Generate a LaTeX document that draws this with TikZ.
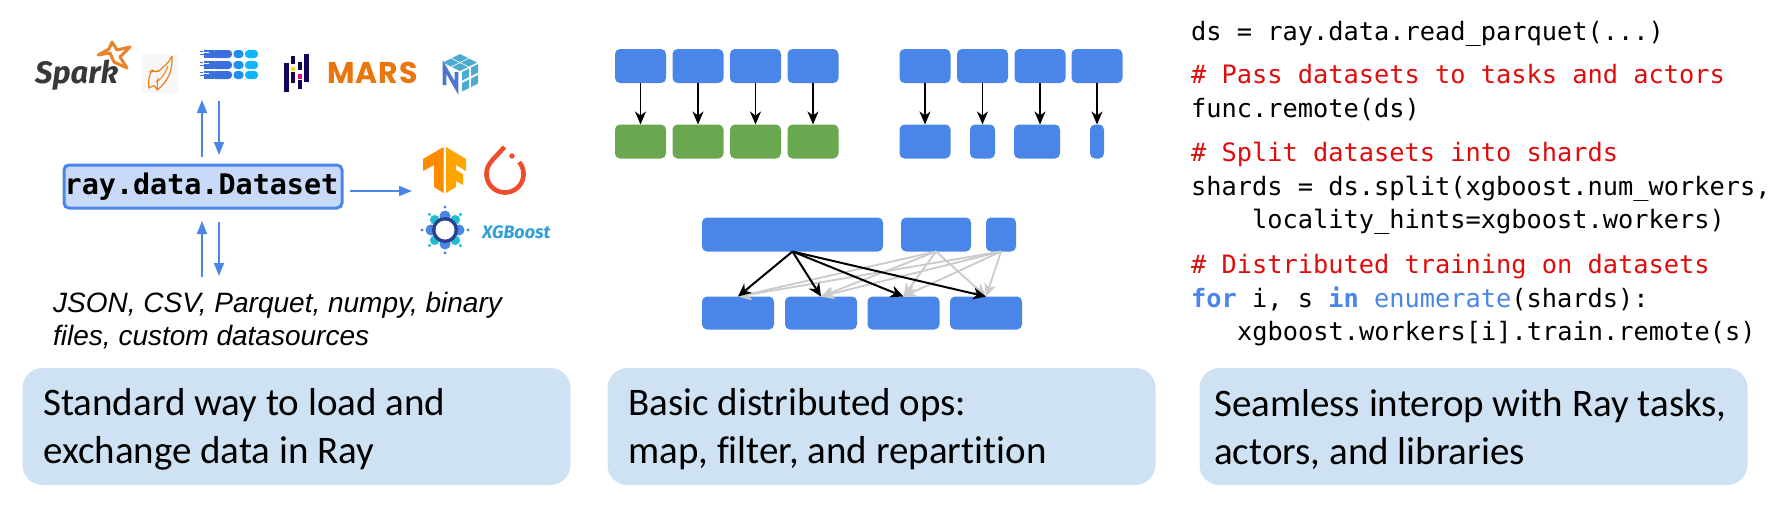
\documentclass[tikz,border=0pt]{standalone}
\usepackage{fontspec}
\usetikzlibrary{arrows.meta}
\setmainfont[Ligatures=NoCommon]{Carlito}
\newfontfamily\codefont{DejaVu Sans Mono}
\newfontfamily\arialfont{Liberation Sans}
\newfontfamily\logofont{Fira Sans}
\newfontfamily\marsfont[LetterSpace=3]{Poppins}
\definecolor{rayblue}{HTML}{4A86E8}
\definecolor{raygreen}{HTML}{6AA84F}
\definecolor{capfill}{HTML}{CFE2F3}
\definecolor{dsfill}{HTML}{C9DAF8}
\definecolor{grayarrow}{HTML}{CCCCCC}
\definecolor{codered}{HTML}{E00B0B}
\definecolor{sparkorange}{HTML}{E8832A}
\definecolor{marsorange}{HTML}{E8760C}
\definecolor{pandasnavy}{HTML}{150458}
\definecolor{torch}{HTML}{EE4C2C}
\definecolor{npdark}{HTML}{4D77CF}
\definecolor{nplight}{HTML}{4DABCF}
\definecolor{xgb}{HTML}{2E9FD9}
\tikzset{
  block/.style={fill=#1,rounded corners=5pt,inner sep=0pt,minimum height=34pt,outer sep=0pt},
  block/.default=rayblue,
  capbox/.style={fill=capfill,rounded corners=20pt,inner sep=0pt,minimum width=548pt,minimum height=117pt,outer sep=0pt},
  captext/.style={anchor=base west,inner sep=0pt,font=\fontsize{39}{46}\selectfont},
  codeline/.style={anchor=base west,inner sep=0pt,font=\codefont\fontsize{25.33}{30}\selectfont},
  redline/.style={codeline,text=codered},
  jsontext/.style={anchor=base west,inner sep=0pt,font=\arialfont\itshape\fontsize{28}{32}\selectfont},
  bluearrow/.style={draw=rayblue,line width=1.6pt,-{Triangle[length=13pt,width=10pt]}},
  blackarrow/.style={draw=black,line width=1.7pt,-{Stealth[length=13pt,width=11pt,inset=4pt]}},
  fanblack/.style={draw=black,line width=2pt,-{Stealth[length=13pt,width=12pt,inset=4pt]}},
  fangray/.style={draw=grayarrow,line width=1.9pt,-{Stealth[length=13pt,width=12pt,inset=4pt]}},
}
\begin{document}
\begin{tikzpicture}[x=1pt,y=-1pt]
\useasboundingbox (0,0) rectangle (1781,507);
% captions
\node[capbox] (cap1) at (296.5,426.5) {};
\node[capbox] (cap2) at (881.5,426.5) {};
\node[capbox] (cap3) at (1473.5,426.5) {};
\node[captext] (c1a) at (43,415) {Standard way to load and};
\node[captext] (c1b) at (43,463) {exchange data in Ray};
\node[captext] (c2a) at (628,415) {Basic distributed ops:};
\node[captext] (c2b) at (628,463) {map, filter, and repartition};
\node[captext] (c3a) at (1214,416) {Seamless interop with Ray tasks,};
\node[captext] (c3b) at (1214,464) {actors, and libraries};
% dataset box
\node[draw=rayblue,fill=dsfill,line width=3pt,rounded corners=5pt,inner sep=0pt,minimum width=278pt,minimum height=43pt,font=\codefont\bfseries\fontsize{28.4}{32}\selectfont] (ds) at (203,186.5) {\hspace*{-3pt}ray.data.Dataset};
\coordinate (upa) at (202,157); \coordinate (upb) at (202,100);
\coordinate (dna) at (219,101); \coordinate (dnb) at (219,155);
\coordinate (lua) at (202,277); \coordinate (lub) at (202,221);
\coordinate (lda) at (219,222); \coordinate (ldb) at (219,276);
\coordinate (rta) at (350,191); \coordinate (rtb) at (412,191);
\draw[bluearrow] (upa) -- (upb);
\draw[bluearrow] (dna) -- (dnb);
\draw[bluearrow] (lua) -- (lub);
\draw[bluearrow] (lda) -- (ldb);
\draw[bluearrow] (rta) -- (rtb);
\node[jsontext] (j1) at (53,312) {JSON, CSV, Parquet, numpy, binary};
\node[jsontext] (j2) at (53,345) {files, custom datasources};
% Spark logo
\node[anchor=base west,inner sep=0pt,text=black!78,font=\logofont\bfseries\itshape\fontsize{31}{36}\selectfont] (spark) at (35,83) {Spark};
\draw[sparkorange,line width=3pt,line join=round] (112,42) -- (117,50) -- (130,47) -- (120,57) -- (127,68) -- (114,62) -- (110,53) -- (98,55) -- (109,49) -- cycle;
% leaf logo
\fill[black!3] (142,54) rectangle (178,93);
\draw[orange!70!brown,line width=1.2pt,line join=round] (172,56) .. controls (173,70) and (168,82) .. (157,90) .. controls (156,86) and (154,84) .. (149,88) .. controls (148,80) and (149,76) .. (152,70) .. controls (155,72) and (157,72) .. (159,71) .. controls (164,66) and (170,62) .. (172,56);
\draw[orange!70!brown,line width=1pt] (168,66) .. controls (164,76) and (160,80) .. (156,82);
\draw[orange!70!brown,line width=1pt] (149,72) -- (159,71) (157,90) -- (158,78);
% stacked-bars logo
\definecolor{stacka}{HTML}{3B6FDD}
\definecolor{stackb}{HTML}{1E8FF0}
\definecolor{stackc}{HTML}{10B5FB}
\foreach \yy in {50,61,71}{
  \fill[stacka,rounded corners=3.5pt] (212,\yy) rectangle (232,\yy+8);
  \fill[stacka] (204,\yy) rectangle (214,\yy+8);
  \fill[white] (204,\yy+2) rectangle (209,\yy+3.2);
  \fill[stacka] (200,\yy+.5) rectangle (203,\yy+1.7);
  \fill[stacka] (200,\yy+4) rectangle (210,\yy+5.2);
  \fill[stackb,rounded corners=3.5pt] (233.5,\yy) rectangle (243.5,\yy+8);
  \fill[stackc,rounded corners=3.5pt] (245,\yy) rectangle (258,\yy+8);
}
% pandas logo
\fill[pandasnavy] (284.3,63.3) rectangle (288.7,91.7);
\fill[pandasnavy] (291.3,56) rectangle (295.3,64);
\fill[pandasnavy] (291.3,71.7) rectangle (295.3,82.7);
\fill[yellow!80!orange] (291.3,66.7) rectangle (295.3,70.7);
\fill[pandasnavy] (297.7,62.3) rectangle (302,70);
\fill[pandasnavy] (297.7,80) rectangle (302,89.3);
\fill[magenta!90!red] (297.7,74.3) rectangle (302,78.7);
\fill[pandasnavy] (304.3,54) rectangle (308.7,82.3);
% MARS
\node[anchor=base west,inner sep=0pt,text=marsorange,font=\marsfont\bfseries\fontsize{30}{34}\selectfont] (mars) at (327,83) {MARS};
% NumPy cube
\foreach \ax/\ay in {460/54,469/58.5,451/58.5,460/63}{
  \fill[nplight] (\ax,\ay) -- (\ax+8,\ay+4) -- (\ax,\ay+8) -- (\ax-8,\ay+4) -- cycle;
}
\foreach \ax/\ay in {462/72,471/67.5,462/83,471/78.5}{
  \fill[nplight] (\ax,\ay) -- (\ax+7,\ay-3.5) -- (\ax+7,\ay+5) -- (\ax,\ay+8.5) -- cycle;
}
\draw[npdark,line width=3.6pt,line join=miter] (444.5,85) -- (444.5,67) -- (456.5,88) -- (456.5,72);
% TensorFlow
\definecolor{tfa}{HTML}{FF8A00}
\definecolor{tfb}{HTML}{FFA500}
\fill[tfa] (443.5,147) -- (423,159) -- (423,171) -- (434,165) -- (434,187) -- (443.5,193) -- cycle;
\fill[tfb] (446,147) -- (466,159) -- (466,171) -- (456,165) -- (456,170) -- (463,174) -- (463,185) -- (456,181) -- (456,187) -- (446,193) -- cycle;
% PyTorch
\draw[torch,line width=4.6pt,line cap=butt,line join=round] (504.5,147) -- (492,160.5) -- plot[domain=225:-40,samples=50] ({505+18.5*cos(\x)},{174+18.5*sin(\x)});
\fill[torch] (512,156) circle[radius=2.7pt];
% XGBoost logo
\definecolor{xgnavy}{HTML}{2A3F8F}
\definecolor{xgteal}{HTML}{20BCD0}
\foreach \aa in {0,90,180,270}{\fill[rayblue] ({445+14*cos(\aa)},{230+14*sin(\aa)}) circle[radius=5.5pt];
  \fill[rayblue] ({445+23*cos(\aa)},{230+23*sin(\aa)}) circle[radius=1.7pt];}
\foreach \aa in {45,135,225,315}{\fill[xgteal] ({445+14.5*cos(\aa)},{230+14.5*sin(\aa)}) circle[radius=4.8pt];
  \fill[xgteal] ({445+22*cos(\aa)},{230+22*sin(\aa)}) circle[radius=1.7pt];}
\fill[xgnavy] (445,230) circle[radius=13pt];
\fill[white] (445,230) circle[radius=9.5pt];
\node[anchor=base west,inner sep=0pt,text=xgb,font=\logofont\bfseries\itshape\fontsize{18}{20}\selectfont] (xgbtext) at (482,238) {XGBoost};
% map
\node[block,minimum width=51pt] (ma1) at (640.5,66) {};
\node[block,minimum width=51pt] (ma2) at (698,66) {};
\node[block,minimum width=51pt] (ma3) at (755.5,66) {};
\node[block,minimum width=51pt] (ma4) at (813,66) {};
\node[block=raygreen,minimum width=51pt] (mb1) at (640.5,141.5) {};
\node[block=raygreen,minimum width=51pt] (mb2) at (698,141.5) {};
\node[block=raygreen,minimum width=51pt] (mb3) at (755.5,141.5) {};
\node[block=raygreen,minimum width=51pt] (mb4) at (813,141.5) {};
\draw[blackarrow] (ma1) -- (mb1);
\draw[blackarrow] (ma2) -- (mb2);
\draw[blackarrow] (ma3) -- (mb3);
\draw[blackarrow] (ma4) -- (mb4);
% filter
\node[block,minimum width=51pt] (fa1) at (925,66) {};
\node[block,minimum width=51pt] (fa2) at (982.5,66) {};
\node[block,minimum width=51pt] (fa3) at (1040,66) {};
\node[block,minimum width=51pt] (fa4) at (1097,66) {};
\node[block,minimum width=51pt] (fb1) at (925,141.5) {};
\node[block,minimum width=25pt] (fb2) at (982.5,141.5) {};
\node[block,minimum width=46pt] (fb3) at (1037,141.5) {};
\node[block,minimum width=14pt] (fb4) at (1097,141.5) {};
\draw[blackarrow] (fa1) -- (fb1);
\draw[blackarrow] (fa2) -- (fb2);
\draw[blackarrow] (fa3.south) -- (fa3.south |- fb3.north);
\draw[blackarrow] (fa4) -- (fb4);
% repartition
\node[block,minimum width=181pt] (ra1) at (792.5,234.5) {};
\node[block,minimum width=70pt] (ra2) at (936,234.5) {};
\node[block,minimum width=30pt] (ra3) at (1001,234.5) {};
\node[block,minimum width=72pt,minimum height=33pt] (rb1) at (738,313) {};
\node[block,minimum width=72pt,minimum height=33pt] (rb2) at (821,313) {};
\node[block,minimum width=72pt,minimum height=33pt] (rb3) at (903.5,313) {};
\node[block,minimum width=72pt,minimum height=33pt] (rb4) at (986,313) {};
\foreach \src in {ra2,ra3}{\foreach \dst in {rb1,rb2,rb3,rb4}{\draw[fangray] (\src.south) -- (\dst.north);}}
\foreach \dst in {rb1,rb2,rb3,rb4}{\draw[fanblack] (ra1.south) -- (\dst.north);}
% code
\node[codeline] (l1) at (1191,40) {ds = ray.data.read\_parquet(...)};
\node[redline] (l2) at (1191,83) {\# Pass datasets to tasks and actors};
\node[codeline] (l3) at (1191,117) {func.remote(ds)};
\node[redline] (l4) at (1191,161) {\# Split datasets into shards};
\node[codeline] (l5) at (1191,195) {shards = ds.split(xgboost.num\_workers,};
\node[codeline] (l6) at (1252,228) {locality\_hints=xgboost.workers)};
\node[redline] (l7) at (1191,273) {\# Distributed training on datasets};
\node[codeline] (l8) at (1191,307) {\textcolor{rayblue}{\bfseries for} i, s \textcolor{rayblue}{\bfseries in} \textcolor{rayblue}{enumerate}(shards):};
\node[codeline] (l9) at (1237,340) {xgboost.workers[i].train.remote(s)};
\end{tikzpicture}
\end{document}
